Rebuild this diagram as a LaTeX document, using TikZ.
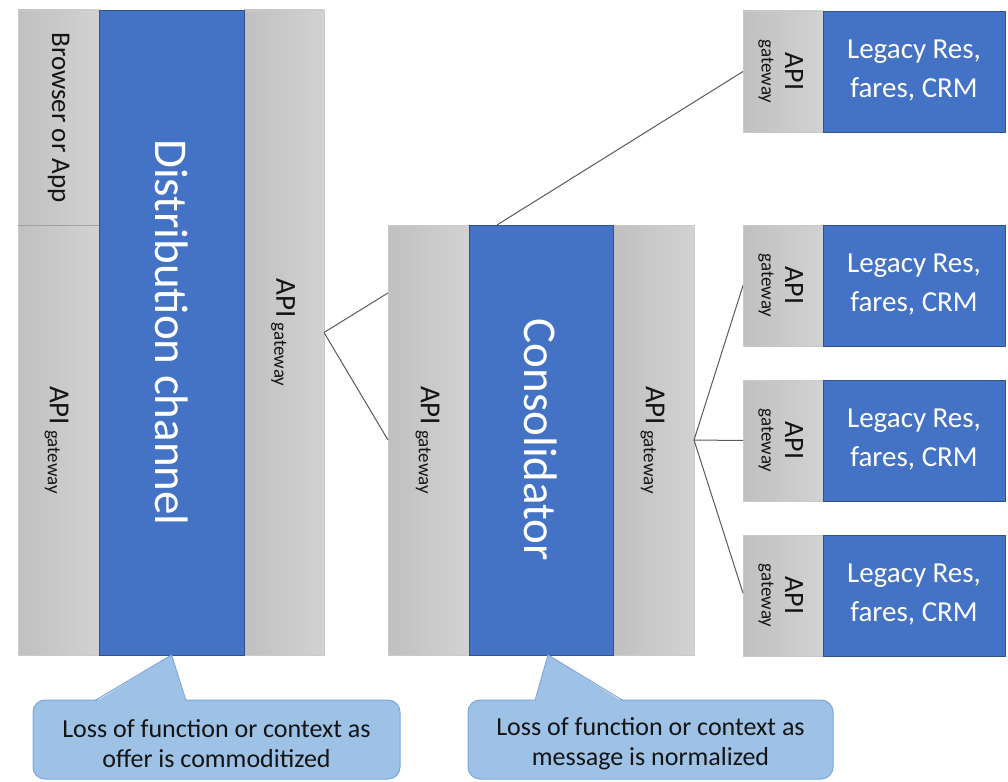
\documentclass[tikz,border=0pt]{standalone}
\usepackage{fontspec}
\setmainfont{Carlito}
\usetikzlibrary{calc}
\definecolor{bblue}{RGB}{68,114,196}
\definecolor{bborder}{RGB}{47,82,143}
\definecolor{gdark}{RGB}{192,192,192}
\definecolor{glight}{RGB}{210,210,210}
\definecolor{gborder}{RGB}{202,202,202}
\definecolor{sepc}{RGB}{160,160,160}
\definecolor{cfill}{RGB}{157,194,230}
\definecolor{cborder}{RGB}{125,166,220}
\definecolor{linec}{RGB}{89,89,89}
\definecolor{txtc}{RGB}{20,20,20}
\tikzset{
  box/.style 2 args={anchor=north west, inner sep=0pt, outer sep=0pt, minimum width=#1pt, minimum height=#2pt},
  graybox/.style={left color=gdark, right color=glight, draw=gborder, line width=0.6pt},
  bluebox/.style={fill=bblue, draw=bborder, line width=0.8pt},
  conn/.style={draw=linec, line width=1pt},
  calloutbox/.style={fill=cfill, draw=cborder, line width=1pt, rounded corners=12pt},
  txt/.style={inner sep=0pt, outer sep=0pt, text=txtc},
  wtxt/.style={inner sep=0pt, outer sep=0pt, text=white},
}
\newcommand{\apigw}{\rotatebox{-90}{\fontsize{29}{29}\selectfont API\,\raisebox{-2pt}{\fontsize{19}{19}\selectfont gateway}}}
\begin{document}
\begin{tikzpicture}[x=1pt,y=-1pt]
\useasboundingbox (0,0) rectangle (1008,781);
% ---- left block
\node[box={81}{215}, graybox] (lba) at (18,10) {};
\node[box={81}{430}, graybox] (lgl) at (18,225) {};
\node[box={80}{645}, graybox] (lgr) at (244,10) {};
\node[box={145}{645}, bluebox] (lbl) at (99,10) {};
\draw[sepc, line width=0.8pt] (lba.south west) -- (lba.south east);
\node[txt] (tba) at (lba.center) {\rotatebox{-90}{\fontsize{27}{27}\selectfont Browser or App}};
\node[txt, xshift=-2pt] (tgl) at (lgl.center) {\apigw};
\node[txt, xshift=-1pt] (tgr) at (lgr.center) {\apigw};
\node[wtxt] (tbl) at (lbl.center) {\rotatebox{-90}{\fontsize{47}{47}\selectfont Distribution channel}};
% ---- middle block
\node[box={81}{430}, graybox] (mgl) at (388,225) {};
\node[box={81}{430}, graybox] (mgr) at (613,225) {};
\node[box={144}{430}, bluebox] (mbl) at (469,225) {};
\node[txt, xshift=-1pt] (tmgl) at (mgl.center) {\apigw};
\node[txt, xshift=-1pt] (tmgr) at (mgr.center) {\apigw};
\node[wtxt] (tmbl) at (mbl.center) {\rotatebox{-90}{\fontsize{47}{47}\selectfont Consolidator}};
% ---- right boxes
\foreach \i/\yy in {1/11, 2/225, 3/380, 4/535} {
  \node[box={80}{121}, graybox] (r\i g) at (743,\yy) {};
  \node[box={182}{121}, bluebox] (r\i b) at (823,\yy) {};
  \node[txt, xshift=11pt] (r\i api) at (r\i g.center) {\rotatebox{-90}{\fontsize{28}{28}\selectfont API}};
  \node[txt, xshift=-17pt] (r\i gw) at (r\i g.center) {\rotatebox{-90}{\fontsize{19}{19}\selectfont gateway}};
  \node[wtxt, align=center, yshift=1pt, font=\fontsize{29}{39}\selectfont] (r\i bt) at (r\i b.center) {Legacy Res,\\fares, CRM};
}
% ---- connectors
\draw[conn] (lgr.east) -- ($(mgl.north west)!0.158!(mgl.south west)$);
\draw[conn] (lgr.east) -- (mgl.west);
\draw[conn] ($(mbl.north west)!0.194!(mbl.north east)$) -- (r1g.west);
\draw[conn] (mgr.east) -- (r2g.west);
\draw[conn] (mgr.east) -- (r3g.west);
\draw[conn] (mgr.east) -- ($(r4g.north west)!0.48!(r4g.south west)$);
% ---- callouts
\node[box={367}{79}, calloutbox] (c1) at (33,700) {};
\fill[cfill] (lbl.south) -- ($(c1.north west)+(62,2)$) -- ($(c1.north west)+(153,2)$) -- cycle;
\draw[cborder, line width=1pt, line join=round] ($(c1.north west)+(62,0.5)$) -- (lbl.south) -- ($(c1.north west)+(153,0.5)$);
\node[txt, align=center, yshift=-4pt, font=\fontsize{26}{30}\selectfont] (c1t) at (c1.center) {Loss of function or context as\\offer is commoditized};
\node[box={365}{79}, calloutbox] (c2) at (468,700) {};
\coordinate (c2apex) at ($(mbl.south)+(7,0)$);
\fill[cfill] (c2apex) -- ($(c2.north west)+(67,2)$) -- ($(c2.north west)+(155,2)$) -- cycle;
\draw[cborder, line width=1pt, line join=round] ($(c2.north west)+(67,0.5)$) -- (c2apex) -- ($(c2.north west)+(155,0.5)$);
\node[txt, align=center, yshift=-4pt, font=\fontsize{26}{30}\selectfont] (c2t) at (c2.center) {Loss of function or context as\\message is normalized};
\end{tikzpicture}
\end{document}
